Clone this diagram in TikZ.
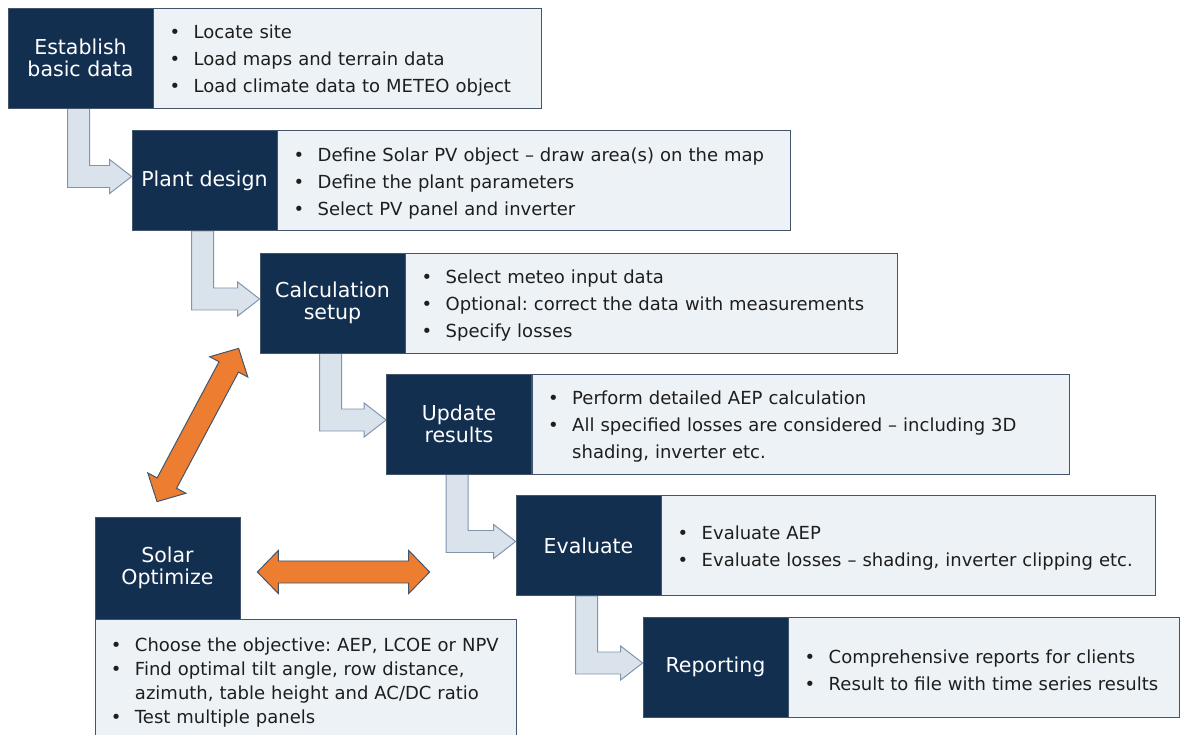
\documentclass[tikz,border=0pt]{standalone}
\usepackage{fontspec}
\setmainfont{DejaVu Sans}
\usetikzlibrary{positioning,calc,backgrounds}
\definecolor{spNavy}{HTML}{132F50}
\definecolor{spMist}{HTML}{EDF2F6}
\definecolor{spRule}{HTML}{44546A}
\definecolor{spPale}{HTML}{DAE3EC}
\definecolor{spPaleRule}{HTML}{8094AE}
\definecolor{spOrange}{HTML}{ED7D31}
\definecolor{spInk}{HTML}{1E1E1E}
\frenchspacing

\newcommand{\itm}{\makebox[0.6cm][l]{\textbullet}}
\newcommand{\itmgap}{\hspace*{0.6cm}}

% L-shaped hollow arrow from the bottom of one step to the left of the next
\newcommand{\bentarrow}[2]{%
  \path (#1.south west) ++(60,0) coordinate (s1) ++(22,0) coordinate (s2);
  \path (#2.west) ++(0,-4) coordinate (t);
  \draw[bentarr] (s1) -- ($(s1|-t)+(0,11)$) -- ($(t)+(-22,11)$) -- ($(t)+(-22,17)$) -- (t)
    -- ($(t)+(-22,-17)$) -- ($(t)+(-22,-11)$) -- ($(s2|-t)+(0,-11)$) -- (s2) -- cycle;}

% fat double-headed arrow between two points
\newcommand{\fatdouble}[2]{%
  \path ($(#1)!0.525cm!(#2)$) coordinate (fa) ($(#2)!0.525cm!(#1)$) coordinate (fb);
  \draw[optarr] (#1) -- ($(fa)!0.54cm!90:(#2)$) -- ($(fa)!0.275cm!90:(#2)$)
    -- ($(fb)!0.275cm!-90:(#1)$) -- ($(fb)!0.54cm!-90:(#1)$) -- (#2)
    -- ($(fb)!0.54cm!90:(#1)$) -- ($(fb)!0.275cm!90:(#1)$)
    -- ($(fa)!0.275cm!-90:(#2)$) -- ($(fa)!0.54cm!-90:(#2)$) -- cycle;}

\begin{document}
\begin{tikzpicture}[x=0.025cm,y=-0.025cm,
  stepbox/.style={fill=spNavy,draw=spRule,line width=0.5pt,text=white,minimum width=3.625cm,
                  minimum height=2.5cm,align=center,inner sep=2pt,font=\fontsize{14.6}{15.6}\selectfont},
  listbox/.style={fill=spMist,draw=spRule,line width=0.5pt,text=spInk,minimum height=2.5cm,
                  inner xsep=0.4cm,align=left,font=\fontsize{12.8}{19.2}\selectfont,
                  execute at begin node={\rule{0pt}{13.8pt}}},
  bentarr/.style={fill=spPale,draw=spPaleRule,line width=0.7pt},
  optarr/.style={fill=spOrange,draw=spRule,line width=0.7pt}]
\useasboundingbox (0,0) rectangle (1186,735);
\clip (0,0) rectangle (1186,735);

% workflow steps
\node[stepbox] (est) at (80.5,58) {Establish\\basic data};
\node[listbox,right=0pt of est,text width=8.9cm] (estl)
  {\itm Locate site\\ \itm Load maps and terrain data\\ \itm Load climate data to METEO object};
\node[stepbox] (pd) at (204.5,180.5) {Plant design};
\node[listbox,right=0pt of pd,text width=12cm] (pdl)
  {\itm Define Solar PV object – draw area(s) on the map\\ \itm Define the plant parameters\\
   \itm Select PV panel and inverter};
\node[stepbox] (cs) at (332.5,303) {Calculation\\setup};
\node[listbox,right=0pt of cs,text width=11.475cm] (csl)
  {\itm Select meteo input data\\ \itm Optional: correct the data with measurements\\ \itm Specify losses};
\node[stepbox] (ur) at (459,424) {Update\\results};
\node[listbox,right=0pt of ur,text width=12.625cm] (url)
  {\itm Perform detailed AEP calculation\\ \itm All specified losses are considered – including 3D\\
   \itmgap shading, inverter etc.};
\node[stepbox] (ev) at (588.5,545.5) {Evaluate};
\node[listbox,right=0pt of ev,text width=11.525cm] (evl)
  {\itm Evaluate AEP\\ \itm Evaluate losses – shading, inverter clipping etc.};
\node[stepbox] (rp) at (715.5,667) {Reporting};
\node[listbox,right=0pt of rp,text width=8.975cm] (rpl)
  {\itm Comprehensive reports for clients\\ \itm Result to file with time series results};

% optimizer
\node[stepbox,minimum height=2.55cm] (opt) at (167.5,568) {Solar\\Optimize};
\node[listbox,anchor=north west,text width=9.725cm,minimum height=3cm,
      font=\fontsize{12.8}{16.9}\selectfont] (optl) at (opt.south west)
  {\itm Choose the objective: AEP, LCOE or NPV\\ \itm Find optimal tilt angle, row distance,\\
   \itmgap azimuth, table height and AC/DC ratio\\ \itm Test multiple panels};

\begin{scope}[on background layer]
\bentarrow{est}{pd}
\bentarrow{pd}{cs}
\bentarrow{cs}{ur}
\bentarrow{ur}{ev}
\bentarrow{ev}{rp}
\end{scope}

\coordinate (da) at ($(opt.north)+(-10.5,-15)$);
\coordinate (db) at ($(cs.south west)+(-21,-5)$);
\coordinate (ha) at ($(opt.east)+(17,4)$);
\coordinate (hb) at ($(ev.west)+(-86,26.5)$);
\fatdouble{da}{db}
\fatdouble{ha}{hb}
\end{tikzpicture}
\end{document}
